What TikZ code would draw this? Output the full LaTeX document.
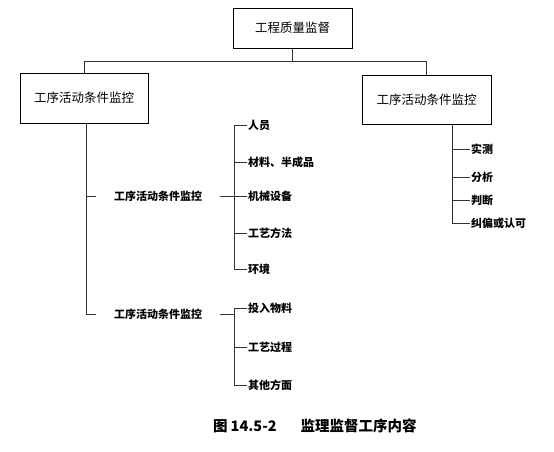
\documentclass[tikz,border=0pt]{standalone}
\usepackage{fontspec}
\setmainfont{Noto Sans CJK SC}
\usetikzlibrary{positioning, calc}

\begin{document}
\begin{tikzpicture}[
    x=1pt, y=-1pt,
    caixa/.style={
        draw,
        line width=0.8pt,
        align=center,
        font=\fontsize{12.5}{14}\selectfont,
        inner sep=0pt
    },
    rotulo/.style={
        font=\fontsize{11}{13}\selectfont\bfseries,
        inner ysep=0pt,
        inner xsep=18pt
    },
    item/.style={
        anchor=west,
        font=\fontsize{11}{13}\selectfont\bfseries,
        inner ysep=0pt,
        inner xsep=1pt
    },
    linha/.style={
        line width=0.8pt,
        black!80
    }
]

\useasboundingbox (0,0) rectangle (554,452);

% caixas
\node[caixa, minimum width=119pt, minimum height=40pt] (topo) at (292.5,28) {工程质量监督};
\node[caixa, minimum width=128pt, minimum height=50pt] (esq) at (84,98) {工序活动条件监控};
\node[caixa, minimum width=129pt, minimum height=49pt] (dir) at (426.5,99.5) {工序活动条件监控};

\coordinate (juncao) at (292.5,61);
\draw[linha] (topo.south) -- (juncao) -| (esq.north);
\draw[linha] (juncao) -| (dir.north);

% ramo esquerdo
\node[rotulo] (sub1) at (158,196) {工序活动条件监控};
\node[rotulo] (sub2) at (158,314) {工序活动条件监控};

\coordinate (eixo) at ([xshift=2pt]esq.south);
\draw[linha] (eixo) |- (sub2.west);
\draw[linha] (sub1.west) -- (sub1.west -| eixo);

\node[item] (pessoal) at (247,125) {人员};
\node[item] (materiais) at (247,162) {材料、半成品};
\node[item] (maquina) at (247,196) {机械设备};
\node[item] (metodo) at (247,233) {工艺方法};
\node[item] (ambiente) at (247,269) {环境};

\coordinate (chave1) at (234,125);
\draw[linha] (pessoal.west) -- (chave1) |- (ambiente.west);
\draw[linha] (materiais.west) -- (materiais.west -| chave1);
\draw[linha] (metodo.west) -- (metodo.west -| chave1);
\draw[linha] (sub1.east) -- (maquina.west);

\node[item] (insumo) at (247,308) {投入物料};
\node[item] (processo) at (247,347) {工艺过程};
\node[item] (outros) at (247,385) {其他方面};

\coordinate (chave2) at (234,308);
\draw[linha] (insumo.west) -- (chave2) |- (outros.west);
\draw[linha] (processo.west) -- (processo.west -| chave2);
\draw[linha] (sub2.east) -- (sub2.east -| chave2);

% ramo direito
\node[item] (medir) at (470,149) {实测};
\node[item] (analise) at (470,177) {分析};
\node[item] (julgar) at (470,200) {判断};
\node[item] (corrigir) at (470,223) {纠偏或认可};

\coordinate (eixoD) at ([xshift=25.5pt]dir.south);
\draw[linha] (eixoD) |- (corrigir.west);
\draw[linha] (medir.west) -- (medir.west -| eixoD);
\draw[linha] (analise.west) -- (analise.west -| eixoD);
\draw[linha] (julgar.west) -- (julgar.west -| eixoD);

% legenda
\node[font=\fontsize{14.5}{16}\selectfont\bfseries, anchor=west, inner sep=0pt] (legenda) at (213,426)
{图\hspace{3pt}14.5-2\hspace{24pt}监理监督工序内容};

\end{tikzpicture}
\end{document}
